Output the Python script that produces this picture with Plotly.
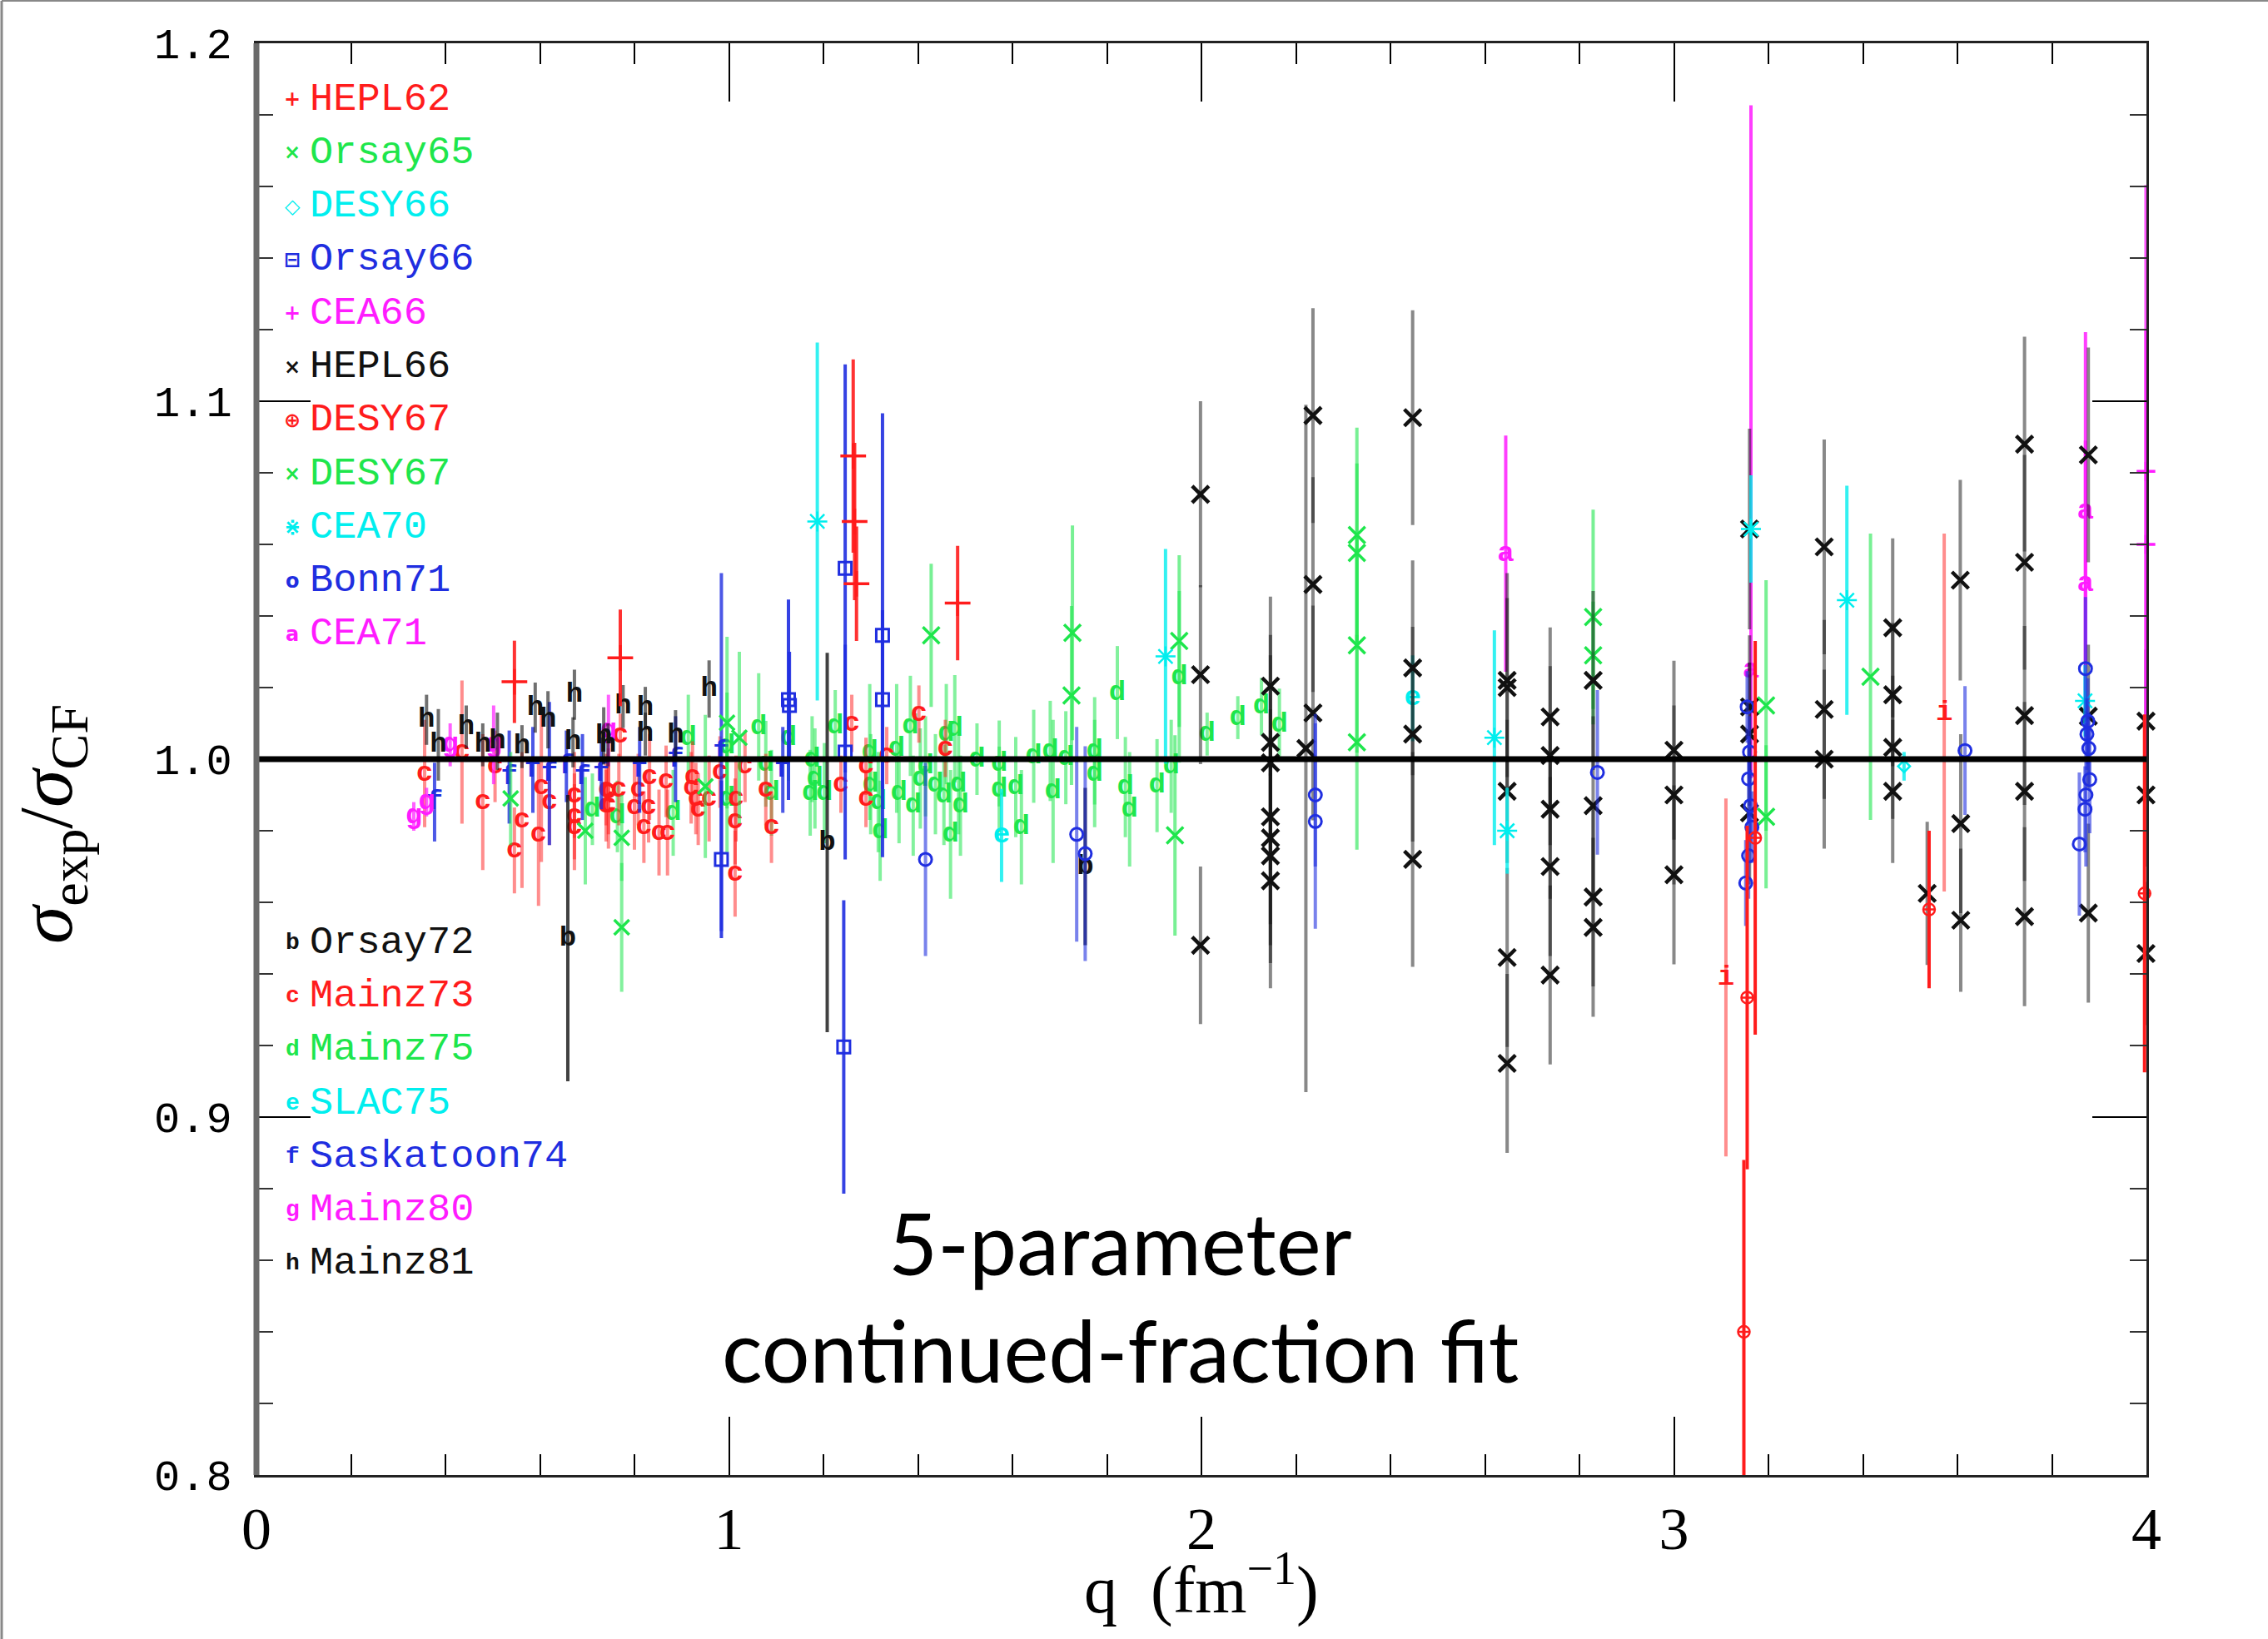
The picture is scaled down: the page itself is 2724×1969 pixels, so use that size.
import plotly.graph_objects as go

# ---------------- data (q in fm^-1, ratio, error) ----------------
hepl62_q = [0.546, 0.770, 1.263, 1.266, 1.270, 1.484]
hepl62_y = [1.0216, 1.0283, 1.0847, 1.0664, 1.0490, 1.0436]
hepl62_e = [0.0115, 0.0135, 0.027, 0.022, 0.016, 0.016]

orsay65_q = [0.538, 0.696, 0.773, 0.773, 0.950, 0.996, 1.022]
orsay65_y = [0.989, 0.980, 0.978, 0.953, 0.9924, 1.0102, 1.006]
orsay65_e = [0.013, 0.015, 0.012, 0.018, 0.020, 0.024, 0.024]

desy66_q = [3.487]
desy66_y = [0.998]
desy66_e = [0.004]

orsay66_q = [0.984, 1.126, 1.128, 1.246, 1.243, 1.246, 1.325, 1.325]
orsay66_y = [0.972, 1.0166, 1.0150, 1.0533, 0.9196, 1.002, 1.0346, 1.0166]
orsay66_e = [0.022, 0.028, 0.015, 0.057, 0.041, 0.030, 0.062, 0.025]

cea66_q = [3.999, 3.999]
cea66_y = [1.0804, 1.060]
cea66_e = [0.080, 0.060]

hepl66_q = [1.998, 1.998, 1.998,
            2.146, 2.146, 2.146, 2.146, 2.146, 2.146, 2.146,
            2.236, 2.236, 2.236, 2.221,
            2.447, 2.447, 2.447, 2.447,
            2.647, 2.647, 2.647, 2.647, 2.647,
            2.738, 2.738, 2.738, 2.738, 2.738,
            2.829, 2.829, 2.829, 2.829,
            3.000, 3.000, 3.000,
            3.160, 3.160, 3.160, 3.160,
            3.318, 3.318, 3.318,
            3.463, 3.463, 3.463, 3.463,
            3.536,
            3.606, 3.607, 3.607,
            3.742, 3.742, 3.742, 3.742, 3.742,
            3.877, 3.877, 3.877,
            3.999, 3.999, 3.999]
hepl66_y = [1.074, 1.0236, 0.948,
            1.0204, 1.0047, 0.999, 0.9839, 0.978, 0.973, 0.966,
            1.096, 1.0488, 1.0129, 1.003,
            1.0954, 1.0255, 1.007, 0.972,
            1.022, 1.020, 0.991, 0.9446, 0.915,
            1.0118, 1.001, 0.986, 0.970, 0.9397,
            1.022, 0.987, 0.9615, 0.953,
            1.0025, 0.990, 0.9677,
            1.0643, 1.0146, 1.007, 0.985,
            1.0593, 1.0139, 1.000,
            1.0367, 1.018, 1.0033, 0.991,
            0.9625,
            1.050, 0.982, 0.955,
            1.088, 1.055, 1.0122, 0.991, 0.956,
            1.085, 1.012, 0.957,
            1.0106, 0.990, 0.9457]
hepl66_e = [0.026, 0.025, 0.022,
            0.025, 0.030, 0.030, 0.030, 0.030, 0.030, 0.030,
            0.030, 0.030, 0.030, 0.096,
            0.030, 0.030, 0.030, 0.030,
            0.030, 0.025, 0.020, 0.025, 0.025,
            0.025, 0.025, 0.025, 0.025, 0.025,
            0.025, 0.025, 0.025, 0.025,
            0.025, 0.025, 0.025,
            0.028, 0.020, 0.020, 0.020,
            0.030, 0.025, 0.025,
            0.025, 0.020, 0.020, 0.020,
            0.020,
            0.028, 0.025, 0.020,
            0.030, 0.030, 0.025, 0.025, 0.025,
            0.030, 0.020, 0.025,
            0.020, 0.020, 0.020]

desy67r_q = [3.148, 3.155, 3.172, 3.540, 3.996]
desy67r_y = [0.840, 0.9334, 0.978, 0.958, 0.9625]
desy67r_e = [0.048, 0.048, 0.055, 0.022, 0.050]

desy67g_q = [1.428, 1.725, 1.727, 1.944, 1.953, 2.329, 2.329, 2.329, 2.329,
             2.829, 2.829, 3.195, 3.195, 3.416]
desy67g_y = [1.0346, 1.0178, 1.0353, 0.9787, 1.033, 1.0626, 1.0576, 1.0318, 1.0047,
             1.0397, 1.029, 1.015, 0.9839, 1.023]
desy67g_e = [0.020, 0.025, 0.030, 0.028, 0.024, 0.030, 0.025, 0.030, 0.030,
             0.030, 0.015, 0.035, 0.020, 0.040]

cea70_q = [1.187, 1.924, 2.620, 2.647, 3.163, 3.366, 3.870]
cea70_y = [1.0664, 1.0287, 1.006, 0.980, 1.0643, 1.0444, 1.0163]
cea70_e = [0.050, 0.030, 0.030, 0.012, 0.015, 0.032, 0.010]

bonn71_q = [1.416, 1.736, 1.754, 2.241, 2.241, 2.838,
            3.155, 3.160, 3.158, 3.162, 3.165, 3.158, 3.152,
            3.616,
            3.871, 3.876, 3.874, 3.878, 3.880, 3.872, 3.870, 3.858]
bonn71_y = [0.972, 0.979, 0.9736, 0.990, 0.9826, 0.9963,
            1.0146, 1.002, 0.9945, 0.987, 0.981, 0.973, 0.9654,
            1.0024,
            1.0253, 1.0106, 1.007, 1.003, 0.9943, 0.990, 0.986, 0.9763]
bonn71_e = [0.027, 0.030, 0.030, 0.020, 0.030, 0.023,
            0.010, 0.010, 0.012, 0.010, 0.010, 0.012, 0.012,
            0.018,
            0.020, 0.012, 0.010, 0.010, 0.015, 0.020, 0.012, 0.020]

cea71_q = [2.644, 3.163, 3.871, 3.871]
cea71_y = [1.0574, 1.0247, 1.0693, 1.049]
cea71_e_up = [0.033, 0.158, 0.050, 0.040]
cea71_e_dn = [0.033, 0.030, 0.050, 0.040]

orsay72_q = [0.659, 1.208, 1.754]
orsay72_y = [0.950, 0.9767, 0.970]
orsay72_e = [0.040, 0.053, 0.022]

mainz73_q = [0.356, 0.435, 0.479, 0.505, 0.546, 0.562, 0.597, 0.603, 0.620, 0.673,
             0.673, 0.673, 0.740, 0.740, 0.745, 0.745, 0.767, 0.770, 0.800, 0.808,
             0.820, 0.830, 0.832, 0.852, 0.867, 0.870, 0.920, 0.923, 0.930, 0.935,
             0.958, 0.981, 1.013, 1.013, 1.015, 1.034, 1.078, 1.090, 1.237, 1.260,
             1.290, 1.290, 1.334, 1.402, 1.458]
mainz73_y = [0.996, 1.002, 0.988, 0.998, 0.9745, 0.983, 0.979, 0.9923, 0.988, 0.990,
             0.984, 0.981, 0.9915, 0.987, 0.991, 0.987, 0.9915, 1.0067, 0.9867, 0.9915,
             0.981, 0.9867, 0.995, 0.9795, 0.9938, 0.9795, 0.992, 0.995, 0.989, 0.986,
             0.989, 0.9964, 0.9826, 0.968, 0.989, 0.998, 0.9915, 0.981, 0.993, 1.010,
             0.998, 0.989, 1.001, 1.0126, 1.003]
mainz73_e = [0.015, 0.020, 0.019, 0.010, 0.012, 0.019, 0.020, 0.021, 0.012, 0.012,
             0.012, 0.012, 0.010, 0.010, 0.012, 0.012, 0.010, 0.006, 0.012, 0.010,
             0.010, 0.010, 0.012, 0.012, 0.010, 0.012, 0.010, 0.010, 0.010, 0.010,
             0.012, 0.010, 0.012, 0.012, 0.012, 0.010, 0.010, 0.010, 0.008, 0.008,
             0.008, 0.008, 0.008, 0.008, 0.008]

mainz75_q = [0.711, 0.764, 0.882, 0.914, 0.996, 0.996, 1.063, 1.078, 1.090, 1.126,
             1.172, 1.176, 1.182, 1.202, 1.225, 1.298, 1.300, 1.316, 1.320, 1.355,
             1.360, 1.384, 1.390, 1.405, 1.416, 1.437, 1.455, 1.460, 1.469, 1.478,
             1.486, 1.490, 1.525, 1.572, 1.572, 1.607, 1.619, 1.645, 1.680, 1.686,
             1.713, 1.774, 1.774, 1.822, 1.839, 1.848, 1.906, 1.936, 1.953, 2.012,
             2.077, 2.127, 2.165]
mainz75_y = [0.986, 0.984, 0.985, 1.006, 1.0036, 0.989, 1.009, 0.9987, 0.9906, 1.006,
             0.9906, 1.000, 0.9946, 0.9905, 1.0093, 1.002, 0.993, 0.988, 0.980, 1.003,
             0.9905, 1.0093, 0.987, 0.9946, 0.998, 0.993, 0.990, 1.007, 0.979, 1.0085,
             0.993, 0.987, 1.000, 0.9988, 0.9915, 0.9922, 0.981, 1.0008, 1.0023, 0.991,
             1.0004, 1.0023, 0.996, 1.0186, 0.9922, 0.986, 0.9926, 0.998, 1.023, 1.007,
             1.0116, 1.0147, 1.0097]
mainz75_e = [0.010, 0.010, 0.012, 0.012, 0.015, 0.015, 0.015, 0.012, 0.012, 0.012,
             0.012, 0.012, 0.014, 0.014, 0.010, 0.019, 0.014, 0.014, 0.014, 0.018,
             0.014, 0.014, 0.014, 0.014, 0.014, 0.014, 0.014, 0.014, 0.018, 0.015,
             0.014, 0.014, 0.010, 0.012, 0.012, 0.014, 0.016, 0.013, 0.014, 0.020,
             0.013, 0.015, 0.015, 0.013, 0.014, 0.016, 0.013, 0.013, 0.024, 0.006,
             0.006, 0.008, 0.010]

slac75_q = [1.577, 2.447]
slac75_y = [0.9787, 1.017]
slac75_e = [0.013, 0.012]

sask74_q = [0.377, 0.535, 0.585, 0.620, 0.656, 0.690, 0.730, 0.811, 0.887, 0.984, 1.114]
sask74_y = [0.988, 0.995, 0.997, 0.996, 0.998, 0.995, 0.996, 0.997, 1.000, 1.002, 0.997]
sask74_e = [0.011, 0.013, 0.012, 0.020, 0.010, 0.012, 0.010, 0.012, 0.012, 0.050, 0.012]

mainz80_q = [0.333, 0.360, 0.410, 0.502, 0.745]
mainz80_y = [0.984, 0.988, 1.004, 1.004, 1.008]
mainz80_e = [0.004, 0.004, 0.006, 0.011, 0.010]

mainz81_q = [0.360, 0.385, 0.444, 0.479, 0.510, 0.562, 0.590, 0.617, 0.670, 0.673,
             0.735, 0.744, 0.776, 0.823, 0.823, 0.887, 0.958]
mainz81_y = [1.011, 1.004, 1.009, 1.004, 1.005, 1.0035, 1.0144, 1.011, 1.0047, 1.018,
             1.0065, 1.004, 1.0147, 1.0142, 1.007, 1.0067, 1.0196]
mainz81_e = [0.007, 0.010, 0.006, 0.006, 0.008, 0.006, 0.007, 0.008, 0.007, 0.007,
             0.008, 0.006, 0.006, 0.006, 0.006, 0.007, 0.008]

extra_i_q = [3.110, 3.572]
extra_i_y = [0.939, 1.013]
extra_i_e = [0.050, 0.050]

legend1_names = ['HEPL62', 'Orsay65', 'DESY66', 'Orsay66', 'CEA66', 'HEPL66',
                 'DESY67', 'DESY67', 'CEA70', 'Bonn71', 'CEA71']
legend1_glyphs = ['+', '×', '◇', '⊟', '+', '×', '⊕', '×', '⋇', 'o', 'a']
legend2_names = ['Orsay72', 'Mainz73', 'Mainz75', 'SLAC75', 'Saskatoon74', 'Mainz80', 'Mainz81']
legend2_glyphs = ['b', 'c', 'd', 'e', 'f', 'g', 'h']

# ---------------- styling ----------------
RED = '#ff1c1c'
GREEN = '#1ee64c'
CYAN = '#00eeee'
BLUE = '#1f2ee0'
MAGENTA = '#ff1cff'
BLACK = '#111111'

legend1_colors = [RED, GREEN, CYAN, BLUE, MAGENTA, BLACK, RED, GREEN, CYAN, BLUE, MAGENTA]
legend2_colors = [BLACK, RED, GREEN, CYAN, BLUE, MAGENTA, BLACK]


def rgba(hx, a):
    hx = hx.lstrip('#')
    r, g, b = int(hx[0:2], 16), int(hx[2:4], 16), int(hx[4:6], 16)
    return f'rgba({r},{g},{b},{a})'


fig = go.Figure()


def err(e, color, alpha, emin=None, thick=4):
    d = dict(type='data', array=e, color=rgba(color, alpha), thickness=thick, width=0)
    if emin is not None:
        d['symmetric'] = False
        d['arrayminus'] = emin
    return d


def add_marker(q, y, e, color, symbol, size, lw, alpha=0.7, emin=None):
    fig.add_trace(go.Scatter(
        x=q, y=y, mode='markers', cliponaxis=False, showlegend=False,
        marker=dict(symbol=symbol, size=size, color=color,
                    line=dict(color=color, width=lw)),
        error_y=err(e, color, alpha, emin)))


def add_letter(q, y, e, color, letter, alpha=0.6, emin=None):
    fig.add_trace(go.Scatter(
        x=q, y=y, mode='markers+text', cliponaxis=False, showlegend=False,
        text=[letter] * len(q), textposition='middle center',
        textfont=dict(family='Liberation Mono', size=34, color=color, weight='bold'),
        marker=dict(size=2, color='rgba(0,0,0,0)'),
        error_y=err(e, color, alpha, emin)))


# drawing order
add_letter(mainz75_q, mainz75_y, mainz75_e, GREEN, 'd', 0.55)
add_letter(mainz73_q, mainz73_y, mainz73_e, RED, 'c', 0.5)
add_letter(sask74_q, sask74_y, sask74_e, BLUE, 'f', 0.8)
add_letter(mainz80_q, mainz80_y, mainz80_e, MAGENTA, 'g', 0.7)
add_letter(mainz81_q, mainz81_y, mainz81_e, BLACK, 'h', 0.6)
add_letter(orsay72_q, orsay72_y, orsay72_e, BLACK, 'b', 0.8)
add_letter(slac75_q, slac75_y, slac75_e, CYAN, 'e', 0.8)
add_letter(extra_i_q, extra_i_y, extra_i_e, RED, 'i', 0.5)
add_marker(orsay65_q, orsay65_y, orsay65_e, GREEN, 'x-thin', 18, 3.5, 0.55)
add_marker(desy67g_q, desy67g_y, desy67g_e, GREEN, 'x-thin', 20, 3.5, 0.6)
add_letter(cea71_q, cea71_y, cea71_e_up, MAGENTA, 'a', 0.85, emin=cea71_e_dn)
add_marker(hepl66_q, hepl66_y, hepl66_e, BLACK, 'x-thin', 20, 4.5, 0.5)
add_marker(cea70_q, cea70_y, cea70_e, CYAN, 'asterisk-open', 20, 2.5, 0.8)
add_marker(desy66_q, desy66_y, desy66_e, CYAN, 'diamond-open', 11, 2.5, 0.8)
add_marker(bonn71_q, bonn71_y, bonn71_e, BLUE, 'circle-open', 15, 3, 0.6)
add_marker(orsay66_q, orsay66_y, orsay66_e, BLUE, 'square-open', 15, 3, 0.9)
add_marker(hepl62_q, hepl62_y, hepl62_e, RED, 'cross-thin', 22, 3.5, 0.9)
add_marker(cea66_q, cea66_y, cea66_e, MAGENTA, 'cross-thin', 16, 3.5, 0.75)
add_marker(desy67r_q, desy67r_y, desy67r_e, RED, 'circle-cross-open', 14, 2.5, 1.0)

# ---------------- layout ----------------
L, R, T, B = 308, 146, 52, 197
W, H = 2724, 1969
PW, PH = W - L - R, H - T - B

fig.update_layout(
    width=W, height=H,
    margin=dict(l=L, r=R, t=T, b=B),
    plot_bgcolor='white', paper_bgcolor='white',
    showlegend=False,
)

fig.update_xaxes(
    range=[0, 4], tickmode='linear', tick0=0, dtick=1,
    ticks='inside', ticklen=70, tickwidth=2, tickcolor='black',
    minor=dict(dtick=0.2, ticks='inside', ticklen=25, tickwidth=2, tickcolor='black'),
    showline=True, linewidth=3, linecolor='#222222', mirror='ticks',
    showgrid=False, zeroline=False,
    tickfont=dict(family='Liberation Serif', size=72, color='black'),
    ticklabelstandoff=0,
)
fig.update_yaxes(
    range=[0.8, 1.2], tickmode='linear', tick0=0.8, dtick=0.1, tickformat='.1f',
    ticks='inside', ticklen=65, tickwidth=2, tickcolor='black',
    minor=dict(dtick=0.02, ticks='inside', ticklen=20, tickwidth=2, tickcolor='#333333'),
    showline=True, linewidth=3, linecolor='#222222', mirror='ticks',
    showgrid=False, zeroline=False,
    tickfont=dict(family='Liberation Mono', size=52, color='black'),
    ticklabelstandoff=16,
)

shapes = [
    dict(type='line', xref='x', yref='y', x0=0, x1=4, y0=1.0, y1=1.0,
         line=dict(color='black', width=7)),
    dict(type='line', xref='paper', yref='paper', x0=0, x1=0, y0=0, y1=1,
         line=dict(color='#6a6a6a', width=7)),
    dict(type='line', xref='paper', yref='paper', x0=-(L - 2) / PW, x1=-(L - 2) / PW,
         y0=-(B) / PH, y1=1 + (T - 1) / PH, line=dict(color='#888888', width=3)),
    dict(type='line', xref='paper', yref='paper', x0=-(L - 2) / PW, x1=1 + R / PW,
         y0=1 + (T - 1) / PH, y1=1 + (T - 1) / PH, line=dict(color='#888888', width=2)),
]
fig.update_layout(shapes=shapes)

ann = []
leg_step = 0.01495
for i, (nm, gl, col) in enumerate(zip(legend1_names, legend1_glyphs, legend1_colors)):
    yy = 1.1844 - i * leg_step
    ann.append(dict(x=0.076, y=yy, xref='x', yref='y', text=gl, showarrow=False,
                    xanchor='center', yanchor='middle',
                    font=dict(family='DejaVu Sans', size=24, color=col, weight='bold')))
    ann.append(dict(x=0.109, y=yy, xref='x', yref='y', text=nm, showarrow=False,
                    xanchor='left', yanchor='middle',
                    font=dict(family='Liberation Mono', size=47, color=col)))
for i, (nm, gl, col) in enumerate(zip(legend2_names, legend2_glyphs, legend2_colors)):
    yy = 0.9488 - i * leg_step
    ann.append(dict(x=0.076, y=yy, xref='x', yref='y', text=gl, showarrow=False,
                    xanchor='center', yanchor='middle',
                    font=dict(family='Liberation Mono', size=28, color=col, weight='bold')))
    ann.append(dict(x=0.109, y=yy, xref='x', yref='y', text=nm, showarrow=False,
                    xanchor='left', yanchor='middle',
                    font=dict(family='Liberation Mono', size=47, color=col)))

ann.append(dict(x=1.829, y=0.8650, xref='x', yref='y', text='5-parameter', showarrow=False,
                xanchor='center', yanchor='middle',
                font=dict(family='Lato', size=102, color='black')))
ann.append(dict(x=1.829, y=0.8350, xref='x', yref='y', text='continued-fraction fit',
                showarrow=False, xanchor='center', yanchor='middle',
                font=dict(family='Lato', size=102, color='black')))

# axis titles
ann.append(dict(x=0.5, y=-(1904 - (T + PH)) / PH, xref='paper', yref='paper',
                text='q  (fm<sup>−1</sup>)', showarrow=False,
                xanchor='center', yanchor='middle',
                font=dict(family='Liberation Serif', size=80, color='black')))
ann.append(dict(x=-(L - 62) / PW, y=(T + PH - 990) / PH, xref='paper', yref='paper',
                text='<i>σ</i><sub>exp</sub>/<i>σ</i><sub>CF</sub>', showarrow=False,
                textangle=-90, xanchor='center', yanchor='middle',
                font=dict(family='Liberation Serif', size=92, color='black')))
fig.update_layout(annotations=ann)

fig.write_html('out.html')
